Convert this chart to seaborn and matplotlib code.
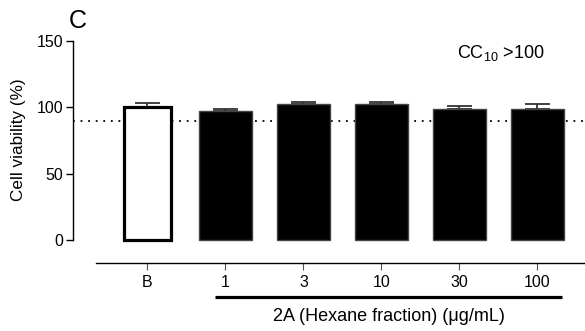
import matplotlib
matplotlib.use("Agg")
import matplotlib.pyplot as plt
import seaborn as sns
import numpy as np

categories = ['B', '1', '3', '10', '30', '100']
viability = [100.0, 97.5, 102.3, 102.3, 98.5, 98.8]
sem = [3.3, 1.5, 1.8, 1.8, 2.7, 4.0]
threshold = 90
group_label = '2A (Hexane fraction) (\u03bcg/mL)'
annotation = 'CC$_{10}$ >100'
panel = 'C'

sns.set_theme(style='ticks')
plt.rcParams['font.family'] = ['Liberation Sans', 'DejaVu Sans']
plt.rcParams['mathtext.fontset'] = 'custom'
plt.rcParams['mathtext.rm'] = 'Liberation Sans'
for k in ['text.color', 'axes.labelcolor', 'xtick.color', 'ytick.color',
          'xtick.labelcolor', 'ytick.labelcolor']:
    plt.rcParams[k] = 'black'

fig = plt.figure(figsize=(5.85, 3.31), dpi=100)
ax = fig.add_axes([73/585, (331-262.7)/331, 1-73/585, (262.7-41)/331])

colors = ['white'] + ['black'] * (len(categories) - 1)
sns.barplot(x=categories, y=viability, hue=categories, palette=colors,
            legend=False, width=0.67, edgecolor='#444444', linewidth=1,
            errorbar=None, ax=ax, zorder=3)

# B bar: thick black outline, slightly narrower
p = ax.patches[0]
p.set_edgecolor('black')
p.set_linewidth(2.3)
p.set_width(0.6)
p.set_x(-0.3)

xs = np.arange(len(categories))
ax.errorbar(xs, viability, yerr=[np.zeros(len(sem)), sem], fmt='none',
            ecolor='#333333', elinewidth=1.3, capsize=9, capthick=1.3, zorder=2)

ax.axhline(threshold, color='black', ls=(0, (1, 3.2)), lw=1.3, zorder=1)

ax.set_ylim(-17.1, 150)
ax.set_xlim(-0.955, 5.61)
ax.set_yticks([0, 50, 100, 150])
ax.spines['left'].set_bounds(0, 150)
ax.spines['bottom'].set_bounds(-0.66, 5.61)
ax.spines['top'].set_visible(False)
ax.spines['right'].set_visible(False)
for s in ['left', 'bottom']:
    ax.spines[s].set_linewidth(1.0)
    ax.spines[s].set_color('black')
ax.tick_params(axis='y', length=5, width=1, pad=2, labelsize=11.5, color='black')
ax.tick_params(axis='x', length=5, width=0.8, pad=4, labelsize=11.5, color='#555555')
ax.set_xlabel('')
ax.set_ylabel('Cell viability (%)', fontsize=12.3)
ax.yaxis.set_label_coords(-0.092, 0.553)

ax.plot([0.865, 5.31], [-43, -43], color='black', lw=2.3, clip_on=False,
        solid_capstyle='butt')
ax.text(3.09, -57.5, group_label, ha='center', va='center', fontsize=13,
        clip_on=False)

fig.text(457/585, 1-53/331, annotation, ha='left', va='center', fontsize=13)
fig.text(78/585, 1-21/331, panel, ha='center', va='center', fontsize=18)

fig.savefig('out.png', dpi=100)
